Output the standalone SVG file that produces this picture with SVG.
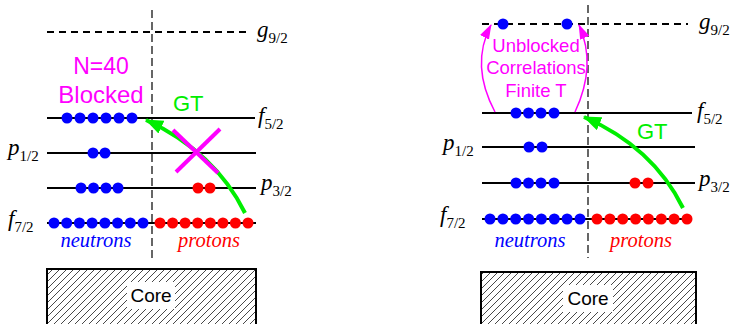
<svg xmlns="http://www.w3.org/2000/svg" width="735" height="324" viewBox="0 0 735 324">
<style>
.lvl{stroke:#000;stroke-width:2;fill:none}
.dash{stroke:#000;stroke-width:2;stroke-dasharray:7 5;fill:none}
.vdash{stroke:#000;stroke-width:1.2;stroke-dasharray:8 4;fill:none}
.nb{fill:#0000ff}
.pr{fill:#ff0000}
.lab{font-family:"Liberation Serif",serif;font-style:italic;font-size:23px;fill:#000}
.sub{font-style:normal;font-size:15px}
.mag{font-family:"Liberation Sans",Arial,sans-serif;fill:#ff00ff;text-anchor:middle}
.gt{font-family:"Liberation Sans",Arial,sans-serif;fill:#00ee00;font-size:22px}
.nu{font-family:"Liberation Serif",serif;font-style:italic;font-size:20.5px;text-anchor:middle}
.garrow{stroke:#00ee00;stroke-width:4;fill:none}
.marc{stroke:#ff00ff;stroke-width:1.5;fill:none}
.core{fill:url(#hatch);stroke:#000;stroke-width:2}
.coretxt{font-family:"Liberation Sans",Arial,sans-serif;font-size:19px;fill:#000;text-anchor:middle}
</style>
<defs>
<pattern id="hatch" patternUnits="userSpaceOnUse" width="7" height="7">
<path d="M-1,1 l2,-2 M0,7 l7,-7 M6,8 l2,-2" stroke="#333" stroke-width="0.9"/>
</pattern>
<marker id="ga" markerUnits="userSpaceOnUse" markerWidth="20" markerHeight="16" refX="17" refY="7" orient="auto">
<path d="M0,0 L18,7 L0,14 Z" fill="#00ee00"/>
</marker>
<marker id="ma" markerUnits="userSpaceOnUse" markerWidth="16" markerHeight="12" refX="14" refY="5" orient="auto">
<path d="M0,0 L15,5 L0,10 Z" fill="#ff00ff"/>
</marker>
</defs>
<rect width="735" height="324" fill="#fff"/>

<g id="left-panel">
<line class="vdash" x1="152" y1="10" x2="152" y2="258"/>
<line class="dash" x1="47" y1="32" x2="250" y2="32"/>
<line class="lvl" x1="47" y1="118" x2="255" y2="118"/>
<line class="lvl" x1="47" y1="153" x2="256" y2="153"/>
<line class="lvl" x1="47" y1="188" x2="256" y2="188"/>
<line class="lvl" x1="47" y1="223" x2="256" y2="223"/>
<g class="nb">
<circle cx="67" cy="118" r="5.5"/><circle cx="80" cy="118" r="5.5"/><circle cx="93" cy="118" r="5.5"/><circle cx="106" cy="118" r="5.5"/><circle cx="119" cy="118" r="5.5"/><circle cx="132" cy="118" r="5.5"/>
<circle cx="93" cy="153" r="5.5"/><circle cx="105" cy="153" r="5.5"/>
<circle cx="81" cy="188" r="5.5"/><circle cx="93.5" cy="188" r="5.5"/><circle cx="106" cy="188" r="5.5"/><circle cx="118" cy="188" r="5.5"/>
<circle cx="54" cy="223" r="5.5"/><circle cx="66.7" cy="223" r="5.5"/><circle cx="79.4" cy="223" r="5.5"/><circle cx="92.1" cy="223" r="5.5"/><circle cx="104.9" cy="223" r="5.5"/><circle cx="117.6" cy="223" r="5.5"/><circle cx="130.3" cy="223" r="5.5"/><circle cx="143" cy="223" r="5.5"/>
</g>
<g class="pr">
<circle cx="198" cy="188" r="5.5"/><circle cx="210" cy="188" r="5.5"/>
<circle cx="160" cy="223" r="5.5"/><circle cx="172.6" cy="223" r="5.5"/><circle cx="185.1" cy="223" r="5.5"/><circle cx="197.7" cy="223" r="5.5"/><circle cx="210.3" cy="223" r="5.5"/><circle cx="222.9" cy="223" r="5.5"/><circle cx="235.4" cy="223" r="5.5"/><circle cx="248" cy="223" r="5.5"/>
</g>
<text class="lab" x="257" y="37">g<tspan class="sub" dy="6">9/2</tspan></text>
<text class="lab" x="258" y="123">f<tspan class="sub" dy="6">5/2</tspan></text>
<text class="lab" x="8" y="155">p<tspan class="sub" dy="6">1/2</tspan></text>
<text class="lab" x="261" y="190">p<tspan class="sub" dy="6">3/2</tspan></text>
<text class="lab" x="8" y="226">f<tspan class="sub" dy="6">7/2</tspan></text>
<text class="nu" x="96" y="247" fill="#0000ff">neutrons</text>
<text class="nu" x="209" y="247" fill="#ff0000">protons</text>
<text class="mag" x="101" y="74" font-size="23">N=40</text>
<text class="mag" x="101" y="103" font-size="24">Blocked</text>
<text class="gt" x="173" y="111">GT</text>
<path class="garrow" d="M245,213 Q215,152 146,120" marker-end="url(#ga)"/>
<line x1="173" y1="130" x2="218" y2="173" stroke="#ff00ff" stroke-width="4"/>
<line x1="220" y1="129" x2="176" y2="172" stroke="#ff00ff" stroke-width="4"/>
<rect class="core" x="47" y="269" width="209" height="70"/>
<rect x="127" y="282" width="48" height="27" fill="#fff"/>
<text class="coretxt" x="151" y="302">Core</text>
</g>

<g id="right-panel">
<line class="vdash" x1="588" y1="5" x2="588" y2="258"/>
<line class="dash" x1="482" y1="24" x2="688" y2="24"/>
<line class="lvl" x1="482" y1="113" x2="692" y2="113"/>
<line class="lvl" x1="482" y1="147" x2="695" y2="147"/>
<line class="lvl" x1="482" y1="183" x2="695" y2="183"/>
<line class="lvl" x1="482" y1="219" x2="692" y2="219"/>
<g class="nb">
<circle cx="503" cy="24" r="5.5"/><circle cx="567" cy="24" r="5.5"/>
<circle cx="516" cy="113" r="5.5"/><circle cx="528.5" cy="113" r="5.5"/><circle cx="541" cy="113" r="5.5"/><circle cx="554" cy="113" r="5.5"/>
<circle cx="529" cy="147" r="5.5"/><circle cx="542" cy="147" r="5.5"/>
<circle cx="516" cy="183" r="5.5"/><circle cx="528.5" cy="183" r="5.5"/><circle cx="541" cy="183" r="5.5"/><circle cx="554" cy="183" r="5.5"/>
<circle cx="490" cy="219" r="5.5"/><circle cx="502.9" cy="219" r="5.5"/><circle cx="515.7" cy="219" r="5.5"/><circle cx="528.6" cy="219" r="5.5"/><circle cx="541.4" cy="219" r="5.5"/><circle cx="554.3" cy="219" r="5.5"/><circle cx="567.1" cy="219" r="5.5"/><circle cx="580" cy="219" r="5.5"/>
</g>
<g class="pr">
<circle cx="635" cy="183" r="5.5"/><circle cx="648" cy="183" r="5.5"/>
<circle cx="597" cy="219" r="5.5"/><circle cx="609.9" cy="219" r="5.5"/><circle cx="622.7" cy="219" r="5.5"/><circle cx="635.6" cy="219" r="5.5"/><circle cx="648.4" cy="219" r="5.5"/><circle cx="661.3" cy="219" r="5.5"/><circle cx="674.1" cy="219" r="5.5"/><circle cx="687" cy="219" r="5.5"/>
</g>
<text class="lab" x="699" y="29">g<tspan class="sub" dy="6">9/2</tspan></text>
<text class="lab" x="697" y="118">f<tspan class="sub" dy="6">5/2</tspan></text>
<text class="lab" x="443" y="150">p<tspan class="sub" dy="6">1/2</tspan></text>
<text class="lab" x="699" y="186">p<tspan class="sub" dy="6">3/2</tspan></text>
<text class="lab" x="440" y="222">f<tspan class="sub" dy="6">7/2</tspan></text>
<text class="nu" x="530" y="247" fill="#0000ff">neutrons</text>
<text class="nu" x="641" y="247" fill="#ff0000">protons</text>
<text class="mag" x="536" y="52" font-size="18.5">Unblocked</text>
<text class="mag" x="536" y="74" font-size="18.5">Correlations</text>
<text class="mag" x="536" y="97" font-size="18.5">Finite T</text>
<path class="marc" d="M495,112 Q470,65 491,25" marker-end="url(#ma)"/>
<path class="marc" d="M575,112 Q597,65 579,25" marker-end="url(#ma)"/>
<text class="gt" x="637" y="139">GT</text>
<path class="garrow" d="M683,208 Q653,147 584,117" marker-end="url(#ga)"/>
<rect class="core" x="481" y="272" width="215" height="70"/>
<rect x="563" y="285" width="50" height="27" fill="#fff"/>
<text class="coretxt" x="588" y="305">Core</text>
</g>
</svg>
